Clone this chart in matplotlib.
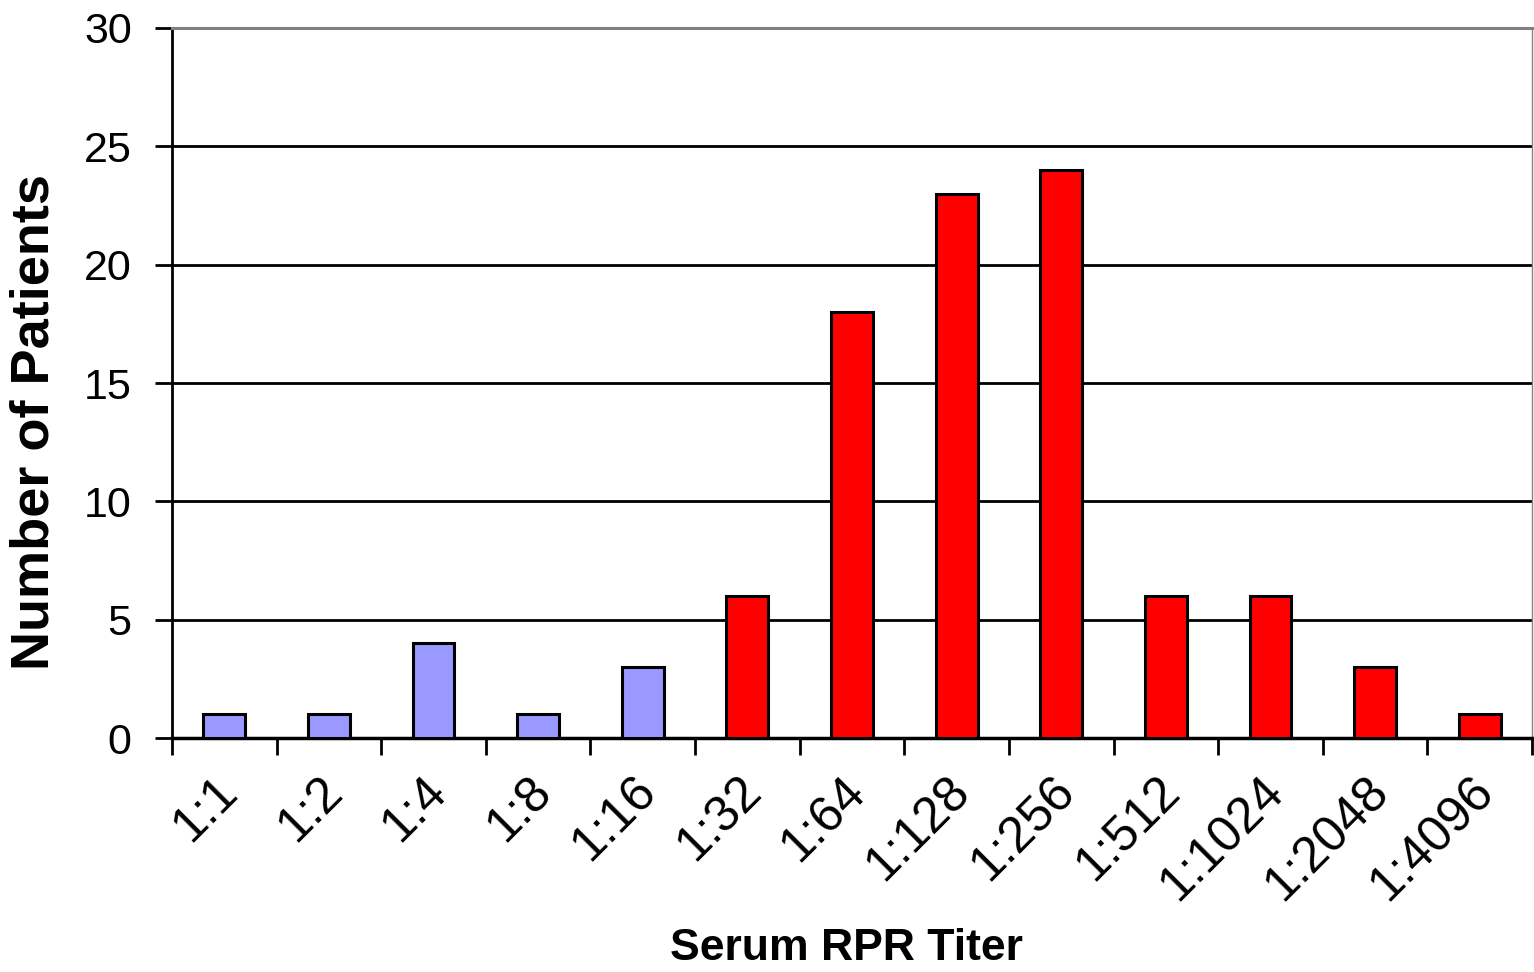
import matplotlib.pyplot as plt
import matplotlib.transforms as mtransforms
import numpy as np

plt.rcParams['font.family'] = ['Liberation Sans', 'DejaVu Sans']

titers = ['1:1', '1:2', '1:4', '1:8', '1:16', '1:32', '1:64', '1:128',
          '1:256', '1:512', '1:1024', '1:2048', '1:4096']
patients = [1, 1, 4, 1, 3, 6, 18, 23, 24, 6, 6, 3, 1]
# first five titers drawn in blue, the rest in red
n_low = 5

blue = '#9999FF'
red = '#FF0000'

fig = plt.figure(figsize=(15.34, 9.72), dpi=100)
ax = fig.add_axes([0.1121, 0.2407, 0.8866, 0.7305])

x = np.arange(len(titers))
colors = [blue if i < n_low else red for i in range(len(titers))]
ax.bar(x, patients, width=0.4, color=colors, edgecolor='black',
       linewidth=2.2, zorder=3)

ax.set_xlim(-0.5, len(titers) - 0.5)
ax.set_ylim(0, 30)
ax.set_yticks(range(0, 31, 5))
for y in range(5, 30, 5):
    ax.axhline(y, color='black', linewidth=2, zorder=1)

# category ticks sit between the bars
ax.set_xticks(np.arange(-0.5, len(titers), 1.0))
ax.set_xticklabels([])
ax.set_xticks(x, minor=True)
ax.set_xticklabels(titers, minor=True, rotation=45, ha='right',
                   va='top', rotation_mode='anchor', fontsize=36)
ax.tick_params(axis='x', which='minor', length=0, pad=26)
ax.tick_params(axis='x', which='major', length=12, width=2, direction='out')
ax.tick_params(axis='y', length=12, width=2, labelsize=31, pad=17)

shift = mtransforms.ScaledTranslation(-0.10, 0.06, fig.dpi_scale_trans)
for lbl in ax.get_xticklabels(minor=True):
    lbl.set_transform(lbl.get_transform() + shift)

ax.spines['left'].set_linewidth(2)
ax.spines['bottom'].set_linewidth(2.5)
ax.spines['top'].set_color('#808080')
ax.spines['top'].set_linewidth(2.2)
ax.spines['right'].set_color('#808080')
ax.spines['right'].set_linewidth(1)

ax.set_xlabel('Serum RPR Titer', fontsize=32, fontweight='bold')
ax.xaxis.set_label_coords(0.4956, -0.268)
ax.set_ylabel('Number of Patients', fontsize=39, fontweight='bold')
ax.yaxis.set_label_coords(-0.083, 0.445)

fig.savefig('out.png', dpi=100)
